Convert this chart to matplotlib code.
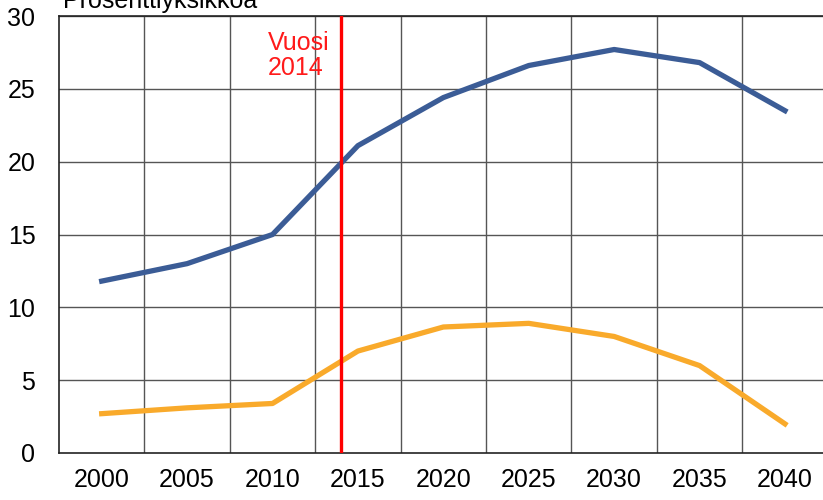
import matplotlib
matplotlib.use("Agg")
import matplotlib.pyplot as plt

plt.rcParams['font.family'] = ['Liberation Sans', 'DejaVu Sans']

# data
years = ['2000', '2005', '2010', '2015', '2020', '2025', '2030', '2035', '2040']
blue_series = [11.8, 13.0, 15.0, 21.1, 24.4, 26.6, 27.7, 26.8, 23.5]
orange_series = [2.7, 3.1, 3.4, 7.0, 8.65, 8.9, 8.0, 6.0, 2.0]
yticks = [0, 5, 10, 15, 20, 25, 30]
marker_year = 2014

fig = plt.figure(figsize=(8.23, 5), dpi=100)
ax = fig.add_axes([0.0717, 0.094, 0.934, 0.874])

x = list(range(len(years)))
ax.plot(x, blue_series, color='#3B5C96', lw=3.8, solid_joinstyle='round', zorder=3)
ax.plot(x, orange_series, color='#F9AA2B', lw=3.8, solid_joinstyle='round', zorder=3)

# red line for 2014 (category axis, 5 years per step)
xr = (marker_year - 2000) / 5
ax.axvline(xr, color='#FF0000', lw=2.4, zorder=4)
ax.text(xr - 0.86, 28.95, 'Vuosi\n2014', color='#FF1A1A', fontsize=18,
        va='top', ha='left', linespacing=1.05)

ax.set_xlim(-0.5, len(years) - 0.5)
ax.set_ylim(0, 30)
ax.set_yticks(yticks)
ax.set_xticks(x)
ax.set_xticklabels(years)

# grid lines between categories
for b in range(len(years)):
    ax.axvline(b + 0.5, color='#555555', lw=1.0, zorder=1)
for yt in yticks[1:]:
    ax.axhline(yt, color='#555555', lw=1.0, zorder=1)

for s in ['left', 'bottom', 'top']:
    ax.spines[s].set_color('#222222')
    ax.spines[s].set_linewidth(1.2)
ax.spines['right'].set_visible(False)

ax.tick_params(axis='both', length=0, labelsize=18)
ax.tick_params(axis='y', pad=17)
ax.tick_params(axis='x', pad=11)

fig.text(63 / 823, 1 - 8 / 500, 'Prosenttiyksikköa', fontsize=18, va='baseline', ha='left')

fig.savefig('out.png', dpi=100)
